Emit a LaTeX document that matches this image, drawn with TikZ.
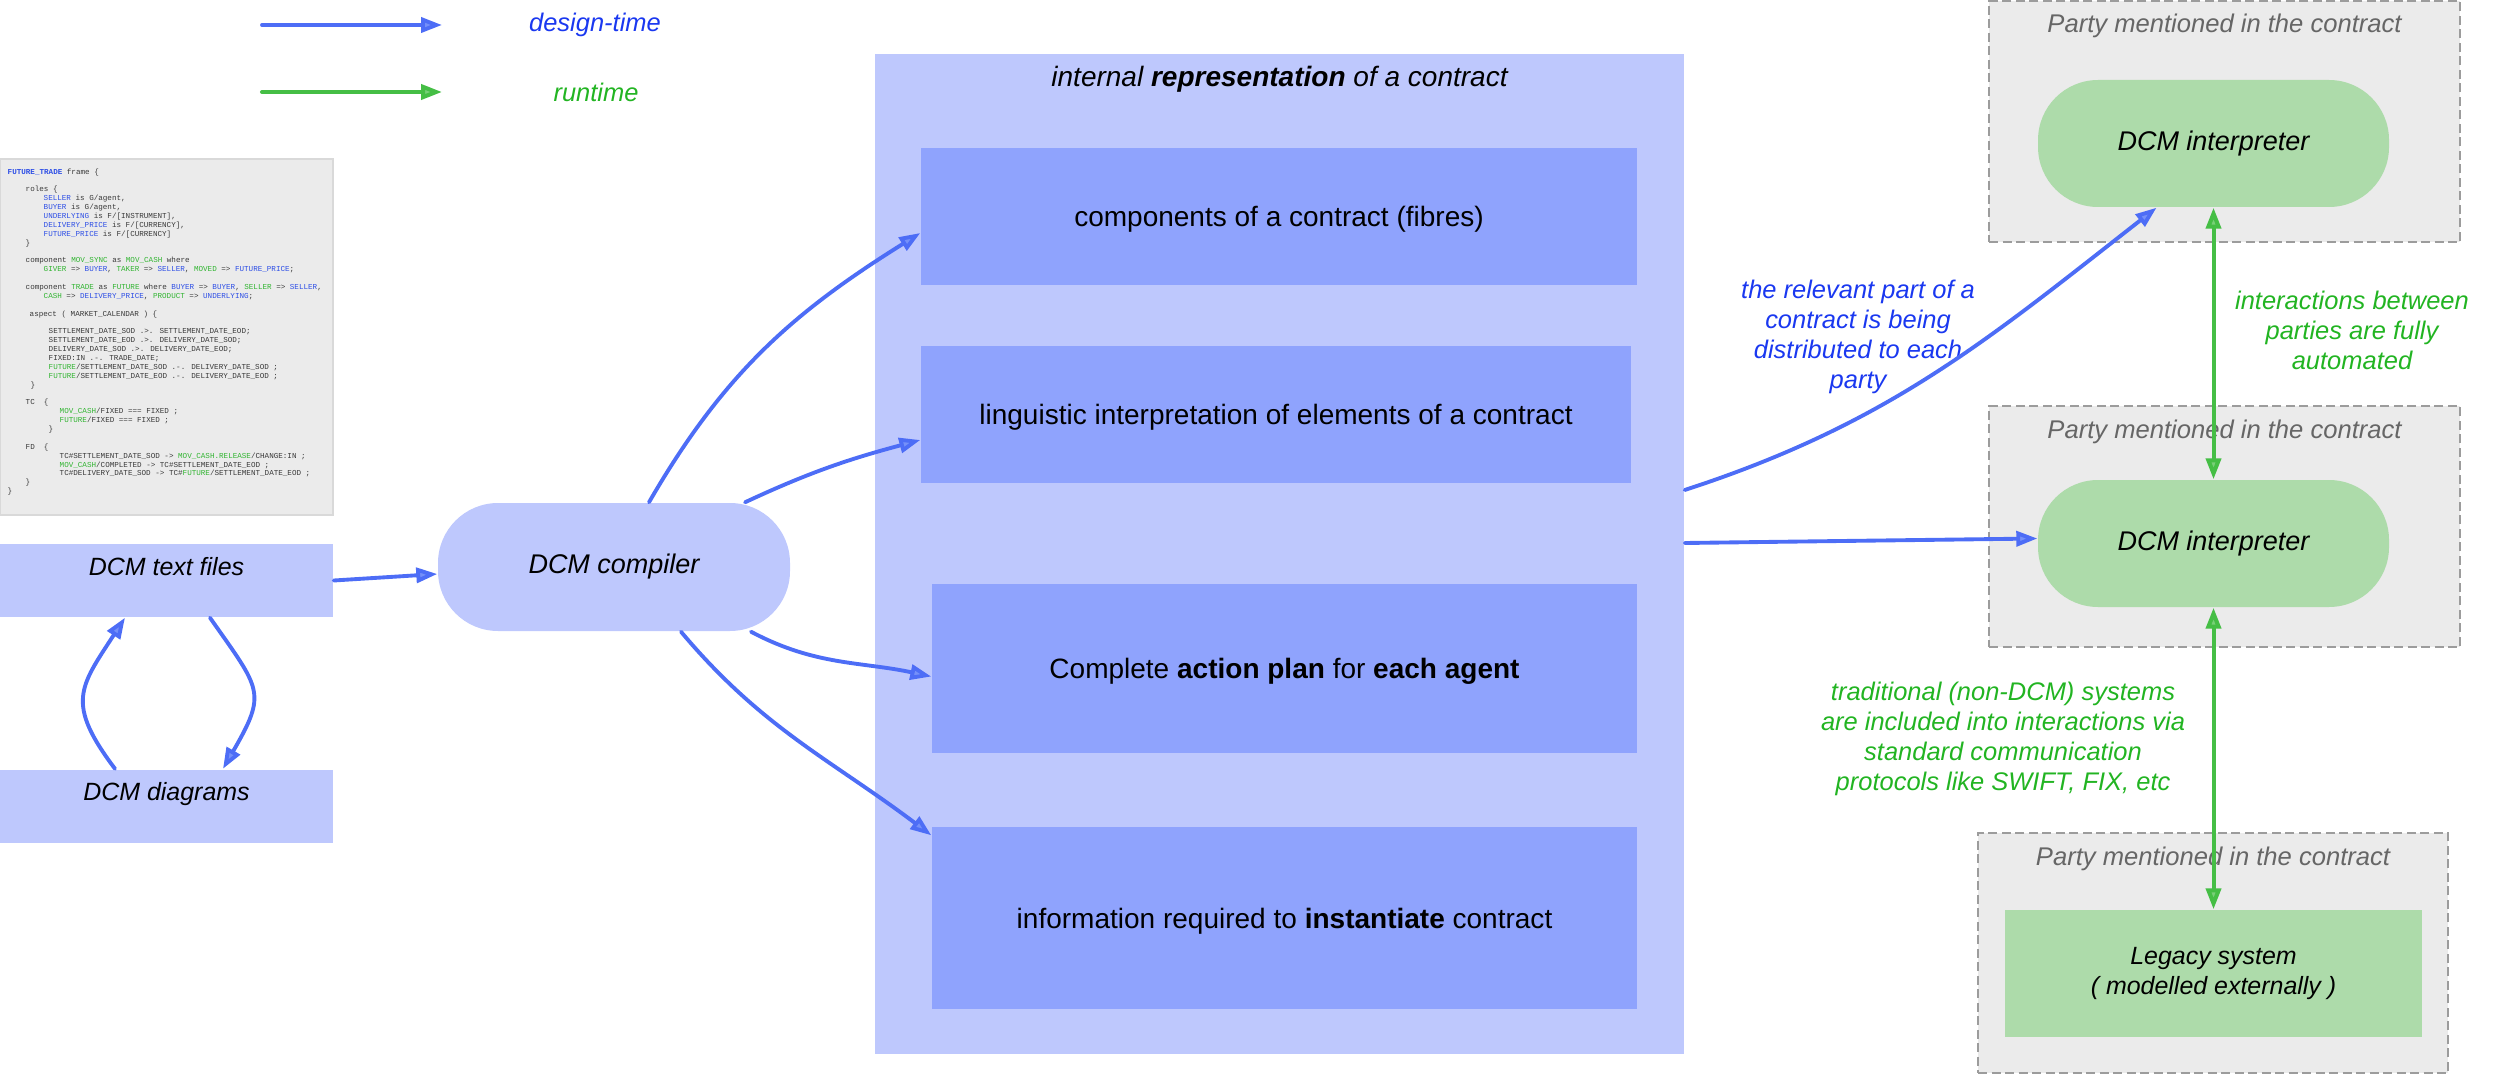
\documentclass[tikz,border=0pt]{standalone}
\usepackage{fontspec}
\setmainfont{Liberation Sans}
\newfontfamily\codefont{Liberation Mono}
\usepackage{xcolor}
\usepackage{tikz}
\usetikzlibrary{arrows.meta}

\definecolor{reprlight}{HTML}{BEC8FD}
\definecolor{reprdark}{HTML}{8FA3FD}
\definecolor{partygray}{HTML}{EBEBEB}
\definecolor{partyedge}{HTML}{9C9C9C}
\definecolor{partytext}{HTML}{666666}
\definecolor{runfill}{HTML}{ADDBAA}
\definecolor{designline}{HTML}{4D6DF6}
\definecolor{designtipfill}{HTML}{7590F9}
\definecolor{designtext}{HTML}{1A38F0}
\definecolor{runline}{HTML}{45BE45}
\definecolor{runtipfill}{HTML}{78D078}
\definecolor{runtext}{HTML}{22B422}
\definecolor{codeblue}{HTML}{2E4FE6}
\definecolor{codegreen}{HTML}{33B533}
\definecolor{codegray}{HTML}{3A3A3A}

\newcommand{\fb}[1]{\textcolor{codeblue}{#1}}
\newcommand{\fg}[1]{\textcolor{codegreen}{#1}}

\tikzset{
    reprbox/.style={rectangle, fill=reprlight, inner ysep=0pt, font=\itshape\fontsize{7.97}{9.5}\selectfont},
    reprpart/.style={rectangle, fill=reprdark, text centered, text height=0.26cm, text depth=0.06cm, font=\fontsize{7.97}{9.5}\selectfont},
    sourcebox/.style={rectangle, fill=reprlight, minimum width=3.33cm, inner ysep=0pt, text height=0.31cm, text depth=0.42cm, font=\itshape\fontsize{7.1}{8.5}\selectfont},
    compilerbox/.style={rectangle, rounded corners=0.6cm, fill=reprlight, minimum width=3.52cm, minimum height=1.28cm, font=\itshape\fontsize{7.68}{9.2}\selectfont},
    partybox/.style={rectangle, fill=partygray, draw=partyedge, line width=0.5pt, dash pattern=on 0.9mm off 0.45mm, inner ysep=0pt, text height=0.32cm, text=partytext, font=\itshape\fontsize{7.28}{8.7}\selectfont},
    interpbox/.style={rectangle, rounded corners=0.6cm, fill=runfill, minimum width=3.51cm, minimum height=1.27cm, font=\itshape\fontsize{7.68}{9.2}\selectfont},
    legacybox/.style={rectangle, fill=runfill, align=center, font=\itshape\fontsize{7.1}{8.54}\selectfont},
    codebg/.style={rectangle, fill=partygray, draw=black!15, line width=0.4pt},
    codetext/.style={align=left, inner sep=0pt, text=codegray, font=\codefont\fontsize{2.16}{2.525}\selectfont},
    designnote/.style={align=center, text=designtext, font=\itshape\fontsize{7.25}{8.54}\selectfont},
    runnote/.style={align=center, text=runtext, font=\itshape\fontsize{7.25}{8.54}\selectfont},
    DesignTip/.tip={Triangle[length=0.21cm, width=0.15cm, fill=designtipfill]},
    RunTip/.tip={Triangle[length=0.21cm, width=0.15cm, fill=runtipfill]},
    designarrow/.style={draw=designline, line width=1.1pt, line cap=round, -DesignTip},
    runarrow/.style={draw=runline, line width=1.15pt, line cap=round, -RunTip}
}

\begin{document}
\begin{tikzpicture}
    \useasboundingbox (0,0) rectangle (25,-10.77);
    % Legend
    \coordinate (designA) at (2.62,-0.25);
    \coordinate (designB) at (4.42,-0.25);
    \node (designkey) [designnote] at (5.95,-0.25) {design-time};
    \coordinate (runA) at (2.62,-0.92);
    \coordinate (runB) at (4.42,-0.92);
    \node (runkey) [runnote] at (5.96,-0.92) {runtime};
    \draw [designarrow] (designA) -- (designB);
    \draw [runarrow] (runA) -- (runB);
    % Sources
    \node (codebox) [codebg, minimum width=3.33cm, minimum height=3.56cm] at (1.665,-3.37) {};
    \node (code) [codetext, anchor=north west] at (0.07,-1.68) {%
        \fb{\textbf{FUTURE\_TRADE}} frame \{\\[2.525pt]
        \hspace*{0.18cm}roles \{\\
        \hspace*{0.36cm}\fb{SELLER} is G/agent,\\
        \hspace*{0.36cm}\fb{BUYER} is G/agent,\\
        \hspace*{0.36cm}\fb{UNDERLYING} is F/[INSTRUMENT],\\
        \hspace*{0.36cm}\fb{DELIVERY\_PRICE} is F/[CURRENCY],\\
        \hspace*{0.36cm}\fb{FUTURE\_PRICE} is F/[CURRENCY]\\
        \hspace*{0.18cm}\}\\[2.525pt]
        \hspace*{0.18cm}component \fg{MOV\_SYNC} as \fg{MOV\_CASH} where\\
        \hspace*{0.36cm}\fg{GIVER} => \fb{BUYER}, \fg{TAKER} => \fb{SELLER}, \fg{MOVED} => \fb{FUTURE\_PRICE};\\[2.525pt]
        \hspace*{0.18cm}component \fg{TRADE} as \fg{FUTURE} where \fb{BUYER} => \fb{BUYER}, \fg{SELLER} => \fb{SELLER},\\
        \hspace*{0.36cm}\fg{CASH} => \fb{DELIVERY\_PRICE}, \fg{PRODUCT} => \fb{UNDERLYING};\\[2.525pt]
        \hspace*{0.22cm}aspect ( MARKET\_CALENDAR ) \{\\[2.525pt]
        \hspace*{0.41cm}SETTLEMENT\_DATE\_SOD .>. SETTLEMENT\_DATE\_EOD;\\
        \hspace*{0.41cm}SETTLEMENT\_DATE\_EOD .>. DELIVERY\_DATE\_SOD;\\
        \hspace*{0.41cm}DELIVERY\_DATE\_SOD .>. DELIVERY\_DATE\_EOD;\\
        \hspace*{0.41cm}FIXED:IN .-. TRADE\_DATE;\\
        \hspace*{0.41cm}\fg{FUTURE}/SETTLEMENT\_DATE\_SOD .-. DELIVERY\_DATE\_SOD ;\\
        \hspace*{0.41cm}\fg{FUTURE}/SETTLEMENT\_DATE\_EOD .-. DELIVERY\_DATE\_EOD ;\\
        \hspace*{0.23cm}\}\\[2.525pt]
        \hspace*{0.18cm}TC~~\{\\
        \hspace*{0.52cm}\fg{MOV\_CASH}/FIXED === FIXED ;\\
        \hspace*{0.52cm}\fg{FUTURE}/FIXED === FIXED ;\\
        \hspace*{0.41cm}\}\\[2.525pt]
        \hspace*{0.18cm}FD~~\{\\
        \hspace*{0.52cm}TC\#SETTLEMENT\_DATE\_SOD -> \fg{MOV\_CASH.RELEASE}/CHANGE:IN ;\\
        \hspace*{0.52cm}\fg{MOV\_CASH}/COMPLETED -> TC\#SETTLEMENT\_DATE\_EOD ;\\
        \hspace*{0.52cm}TC\#DELIVERY\_DATE\_SOD -> TC\#\fg{FUTURE}/SETTLEMENT\_DATE\_EOD ;\\
        \hspace*{0.18cm}\}\\
        \}};
    \node (textfiles) [sourcebox] at (1.665,-5.805) {DCM text files};
    \node (diagrams) [sourcebox] at (1.665,-8.06) {DCM diagrams};
    \node (compiler) [compilerbox] at (6.14,-5.67) {DCM compiler};
    % Internal representation
    \node (repr) [reprbox, minimum width=8.09cm, text height=0.33cm, text depth=9.67cm] at (12.795,-5.54) {internal \textbf{representation} of a contract};
    \node (fibres) [reprpart, minimum width=7.16cm, minimum height=1.37cm] at (12.79,-2.165) {components of a contract (fibres)};
    \node (linguistic) [reprpart, minimum width=7.10cm, minimum height=1.37cm] at (12.76,-4.145) {linguistic interpretation of elements of a contract};
    \node (actionplan) [reprpart, minimum width=7.05cm, minimum height=1.69cm] at (12.845,-6.685) {Complete \textbf{action plan} for \textbf{each agent}};
    \node (instantiation) [reprpart, minimum width=7.05cm, minimum height=1.82cm] at (12.845,-9.18) {information required to \textbf{instantiate} contract};
    % Parties
    \node (party1) [partybox, minimum width=4.71cm, text depth=2.09cm] at (22.245,-1.215) {Party mentioned in the contract};
    \node (party2) [partybox, minimum width=4.71cm, text depth=2.09cm] at (22.245,-5.265) {Party mentioned in the contract};
    \node (party3) [partybox, minimum width=4.70cm, text depth=2.08cm] at (22.13,-9.53) {Party mentioned in the contract};
    \node (interp1) [interpbox] at (22.135,-1.435) {DCM interpreter};
    \node (interp2) [interpbox] at (22.135,-5.435) {DCM interpreter};
    \node (legacy) [legacybox, minimum width=4.17cm, minimum height=1.27cm] at (22.135,-9.735) {Legacy system\\( modelled externally )};
    % Notes
    \node (distnote) [designnote] at (18.58,-3.37) {the relevant part of a\\contract is being\\distributed to each\\party};
    \node (autonote) [runnote] at (23.52,-3.30) {interactions between\\parties are fully\\automated};
    \node (legacynote) [runnote] at (20.03,-7.39) {traditional (non-DCM) systems\\are included into interactions via\\standard communication\\protocols like SWIFT, FIX, etc};
    % Arrows
    \draw [designarrow] (textfiles.east) -- ([yshift=-0.07cm]compiler.west);
    \draw [designarrow] ([xshift=0.435cm]textfiles.south) to[out=-55, in=60, looseness=1.5] ([xshift=0.565cm]diagrams.north);
    \draw [designarrow] ([xshift=-0.515cm]diagrams.north) to[out=127, in=-123, looseness=1.4] ([xshift=-0.415cm]textfiles.south);
    \draw [designarrow] ([xshift=0.35cm]compiler.north) to[out=60, in=-148] ([yshift=-0.165cm]fibres.west);
    \draw [designarrow] ([xshift=1.31cm]compiler.north) to[out=25, in=195] ([yshift=-0.255cm]linguistic.west);
    \draw [designarrow] ([xshift=1.37cm]compiler.south) to[out=-28, in=168] ([yshift=-0.08cm]actionplan.west);
    \draw [designarrow] ([xshift=0.67cm]compiler.south) to[out=-50, in=143] ([yshift=-0.09cm]instantiation.north west);
    \draw [designarrow] ([yshift=0.64cm]repr.east) to[out=18, in=218] ([xshift=-0.57cm]interp1.south);
    \draw [designarrow] ([yshift=0.11cm]repr.east) -- ([yshift=0.05cm]interp2.west);
    \draw [runarrow, RunTip-RunTip] (interp1.south) -- (interp2.north);
    \draw [runarrow, RunTip-RunTip] (interp2.south) -- (legacy.north);
\end{tikzpicture}
\end{document}
